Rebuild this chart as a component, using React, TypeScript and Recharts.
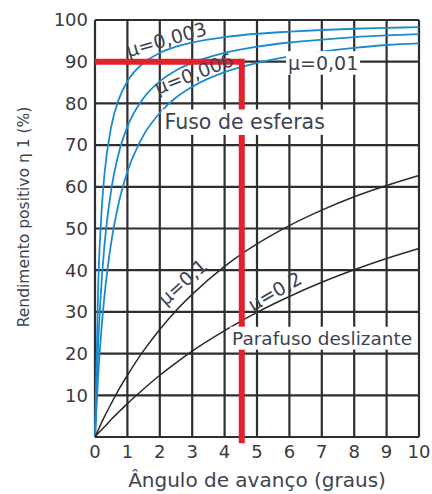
import React from 'react';
import { LineChart, Line, XAxis, YAxis, CartesianGrid, ReferenceLine, ReferenceDot } from 'recharts';

// Ângulo de avanço (graus) e rendimento (%)
const angles = [0, 0.1, 0.2, 0.3, 0.5, 0.75, 1, 1.5, 2, 2.5, 3, 4, 5, 6, 7, 8, 9, 10];
const mu0003 = [0, 36.8, 53.8, 63.6, 74.4, 81.3, 85.3, 89.7, 92.1, 93.6, 94.6, 95.9, 96.7, 97.2, 97.6, 97.9, 98.1, 98.3];
const mu0006 = [0, 22.5, 36.8, 46.6, 59.2, 68.6, 74.4, 81.3, 85.3, 87.9, 89.7, 92.1, 93.6, 94.6, 95.3, 95.9, 96.3, 96.6];
const mu001 = [0, 14.9, 25.9, 34.4, 46.6, 56.7, 63.6, 72.4, 77.7, 81.4, 84.0, 87.5, 89.7, 91.3, 92.4, 93.3, 94.0, 94.4];
const mu01 = [0, 1.7, 3.4, 5.0, 8.0, 11.6, 14.8, 20.7, 25.8, 30.3, 34.2, 40.9, 46.3, 50.7, 54.4, 57.6, 60.3, 62.7];
const mu02 = [0, 0.9, 1.7, 2.5, 4.2, 6.1, 8.0, 11.5, 14.8, 17.8, 20.6, 25.5, 29.9, 33.7, 37.1, 40.1, 42.8, 45.2];

const xTicks = [0, 1, 2, 3, 4, 5, 6, 7, 8, 9, 10];
const yTicks = [0, 10, 20, 30, 40, 50, 60, 70, 80, 90, 100];

// ponto de leitura (linha vermelha)
const readAngle = 4.53;
const readEff = 90;

const toSeries = (vals: number[]) => angles.map((x, i) => ({ x, y: vals[i] }));

const BLUE = '#1b8bd0';
const DARK = '#2a2a2a';
const TEXT = '#3c4450';

const Tag = ({ viewBox, text, rot = 0, size = 19, bg = false, w = 0 }: any) => {
  const cx = viewBox.x + (viewBox.width || 0) / 2;
  const cy = viewBox.y + (viewBox.height || 0) / 2;
  return (
    <g transform={`translate(${cx},${cy}) rotate(${rot})`}>
      {bg && <rect x={-w / 2} y={-size * 0.62} width={w} height={size * 1.24} fill="#fff" />}
      <text textAnchor="middle" dominantBaseline="central" fontSize={size} fill={TEXT}>{text}</text>
    </g>
  );
};

const YTitle = () => (
  <text transform="translate(29,217) rotate(-90)" textAnchor="middle" fontSize={15.5} fill={TEXT}>
    Rendimento positivo η 1 (%)
  </text>
);

const XTitle = ({ viewBox }: any) => (
  <text x={viewBox.x + viewBox.width / 2} y={487} textAnchor="middle" fontSize={20} fill={TEXT}>
    Ângulo de avanço (graus)
  </text>
);

export default function App() {
  return (
    <div style={{ position: 'absolute', left: 0, top: 0, width: 432, height: 494, background: '#fff', fontFamily: '"DejaVu Sans", sans-serif' }}>
      <LineChart width={432} height={494} margin={{ top: 20, right: 13, bottom: 0, left: 50 }}>
        <CartesianGrid stroke="#2e2e2e" strokeWidth={2.2} />
        <XAxis dataKey="x" type="number" domain={[0, 10]} ticks={xTicks} height={57}
          axisLine={false} tickLine={false} tickSize={0} tickMargin={8}
          tick={{ fontSize: 18, fill: '#3a3a3a' }} label={<XTitle />} />
        <YAxis type="number" domain={[0, 100]} ticks={yTicks} width={45}
          axisLine={false} tickLine={false} tickSize={0} tickMargin={7}
          tick={{ fontSize: 18, fill: '#3a3a3a' }} tickFormatter={(v: number) => (v === 0 ? '' : `${v}`)}
          label={<YTitle />} />

        <Line data={toSeries(mu0003)} dataKey="y" type="monotone" stroke={BLUE} strokeWidth={1.8} dot={false} isAnimationActive={false} />
        <Line data={toSeries(mu0006)} dataKey="y" type="monotone" stroke={BLUE} strokeWidth={1.8} dot={false} isAnimationActive={false} />
        <Line data={toSeries(mu001)} dataKey="y" type="monotone" stroke={BLUE} strokeWidth={1.8} dot={false} isAnimationActive={false} />
        <Line data={toSeries(mu01)} dataKey="y" type="monotone" stroke={DARK} strokeWidth={1.5} dot={false} isAnimationActive={false} />
        <Line data={toSeries(mu02)} dataKey="y" type="monotone" stroke={DARK} strokeWidth={1.5} dot={false} isAnimationActive={false} />

        {/* rótulos das curvas */}
        <ReferenceDot x={2.2} y={95.4} r={0} ifOverflow="visible" label={<Tag text="μ=0,003" rot={-16} />} />
        <ReferenceDot x={3.05} y={87.2} r={0} ifOverflow="visible" label={<Tag text="μ=0,006" rot={-21} />} />
        <ReferenceDot x={7.04} y={89.7} r={0} ifOverflow="visible" label={<Tag text="μ=0,01" bg w={74} />} />
        <ReferenceDot x={4.62} y={75.5} r={0} ifOverflow="visible" label={<Tag text="Fuso de esferas" size={20.5} bg w={166} />} />
        <ReferenceDot x={2.7} y={37.2} r={0} ifOverflow="visible" label={<Tag text="μ=0,1" rot={-42} />} />
        <ReferenceDot x={5.55} y={35.0} r={0} ifOverflow="visible" label={<Tag text="μ=0,2" rot={-30} />} />
        <ReferenceDot x={7.01} y={23.7} r={0} ifOverflow="visible" label={<Tag text="Parafuso deslizante" size={18.5} bg w={184} />} />

        {/* leitura: 90 % a 4,5° */}
        <ReferenceLine segment={[{ x: 0, y: readEff }, { x: readAngle, y: readEff }]} stroke="#e3212b" strokeWidth={6} ifOverflow="visible" />
        <ReferenceLine segment={[{ x: readAngle, y: readEff + 0.72 }, { x: readAngle, y: -1.5 }]} stroke="#e3212b" strokeWidth={6} ifOverflow="visible" />
      </LineChart>
    </div>
  );
}
